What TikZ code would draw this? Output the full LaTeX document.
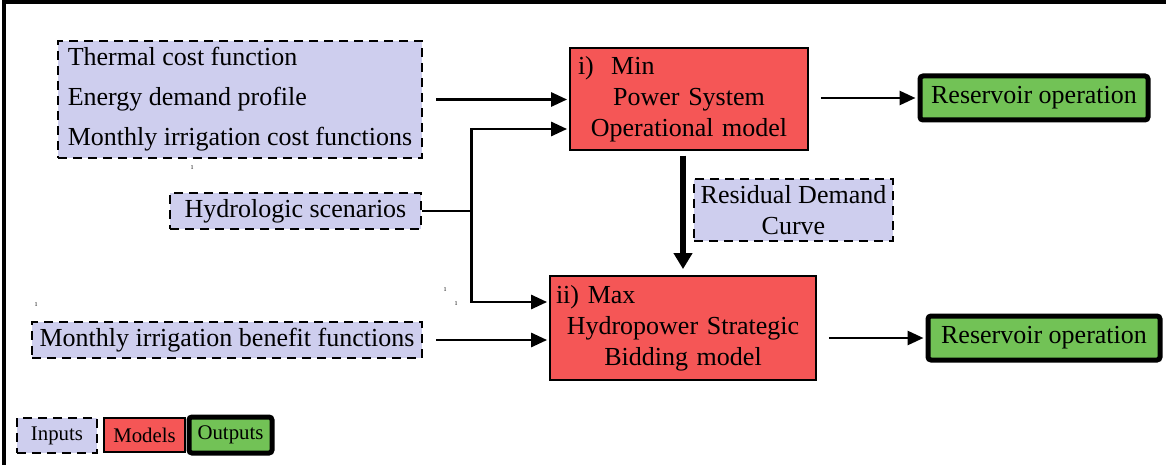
\documentclass[tikz,border=0pt]{standalone}
\usepackage{fontspec}
\setmainfont{Liberation Serif}
\usepackage{tikz}
\usetikzlibrary{calc, arrows.meta, positioning}

\definecolor{inputfill}{RGB}{206,206,238}
\definecolor{modelfill}{RGB}{245,86,86}
\definecolor{outputfill}{RGB}{114,194,86}

\begin{document}
\begin{tikzpicture}[
  x=0.5pt, y=-0.5pt,
  font=\fontsize{13}{15.5}\selectfont,
  inbox/.style={
    draw,
    fill=inputfill,
    line width=1.2pt,
    dash pattern=on 4.5pt off 3pt,
    inner sep=2pt
    },
  modelbox/.style={
    draw,
    fill=modelfill,
    line width=0.9pt,
    align=center
    },
  outbox/.style={
    draw,
    fill=outputfill,
    line width=2.5pt,
    rounded corners=1.5pt,
    inner sep=2pt
    },
  arr/.style={
    line width=1.4pt,
    -{Triangle[length=8pt,width=7pt]}
    },
  bigarr/.style={
    line width=2.6pt,
    -{Triangle[length=8pt,width=9pt]}
    },
  tick/.style={font=\fontsize{3}{3}\selectfont, inner sep=0pt}
]

\useasboundingbox (0,0) rectangle (1166,465);
\draw[line width=2pt] (4,470) -- (4,2) -- (1170,2);

% inputs
\node[inbox, minimum width=182pt, minimum height=58.5pt, align=left,
  font=\fontsize{13}{20}\selectfont] (costs) at (240,99.5)
  {Thermal cost function\\
   Energy demand profile\\
   Monthly irrigation cost functions};
\node[inbox, minimum width=125.5pt, minimum height=18pt] (hydro) at (295.5,211)
  {Hydrologic scenarios};
\node[inbox, minimum width=195pt, minimum height=18pt] (benefit) at (227,340)
  {Monthly irrigation benefit functions};

% models
\node[modelbox, minimum width=119pt, minimum height=49pt, text width=111pt,
  inner sep=4pt] (pso) at (689,99)
  {i)\ \ Min\hfill\null\\
   Power System\\
   Operational model};
\node[modelbox, minimum width=133pt, minimum height=52pt, text width=127pt,
  inner sep=3pt] (hsb) at (683,328)
  {ii) Max\hfill\null\\
   Hydropower Strategic\\
   Bidding model};
\node[inbox, minimum width=99.5pt, minimum height=31pt, align=center]
  (rdc) at (793.5,210)
  {Residual Demand\\Curve};

% outputs
\node[outbox, minimum width=114pt, minimum height=22pt] (out1) at (1034,98)
  {Reservoir operation};
\node[outbox, minimum width=116pt, minimum height=22pt] (out2) at (1044,338)
  {Reservoir operation};

% connections
\draw[arr, shorten <=6.5pt, shorten >=1pt] (costs.east) -- (costs.east -| pso.west);
\draw[line width=1.4pt] (hydro.east) -- ++(24.5pt,0) coordinate (split);
\draw[arr, shorten >=1pt] (split) |- ([yshift=-15pt]pso.west);
\draw[arr, shorten >=1pt] ([yshift=0.7pt]split) |- ([yshift=13pt]hsb.west);
\draw[arr, shorten <=6.5pt, shorten >=1pt] (benefit.east) -- (benefit.east -| hsb.west);
\draw[arr, shorten <=6pt, shorten >=1pt] (pso.east |- out1.west) -- (out1.west);
\draw[arr, shorten <=6pt, shorten >=1pt] (hsb.east |- out2.west) -- (out2.west);
\draw[bigarr, shorten <=2.5pt, shorten >=3pt] (hsb.north |- pso.south) -- (hsb.north);

% stray marks
\node[tick] (t1) at (192,168) {1};
\node[tick] (t2) at (36,305) {1};
\node[tick] (t3) at (445,290) {1};
\node[tick] (t4) at (456,304) {1};

% legend
\node[inbox, minimum width=40pt, minimum height=17.5pt,
  font=\fontsize{10.4}{12}\selectfont] (leg1) at (57,435.5) {Inputs};
\node[modelbox, minimum width=40.5pt, minimum height=17pt, inner sep=1pt,
  font=\fontsize{10.4}{12}\selectfont] (leg2) at (144.5,435) {Models};
\node[outbox, minimum width=41.5pt, minimum height=18pt, inner sep=1pt,
  font=\fontsize{10.4}{12}\selectfont] (leg3) at (230.5,435) {Outputs};

\end{tikzpicture}
\end{document}
